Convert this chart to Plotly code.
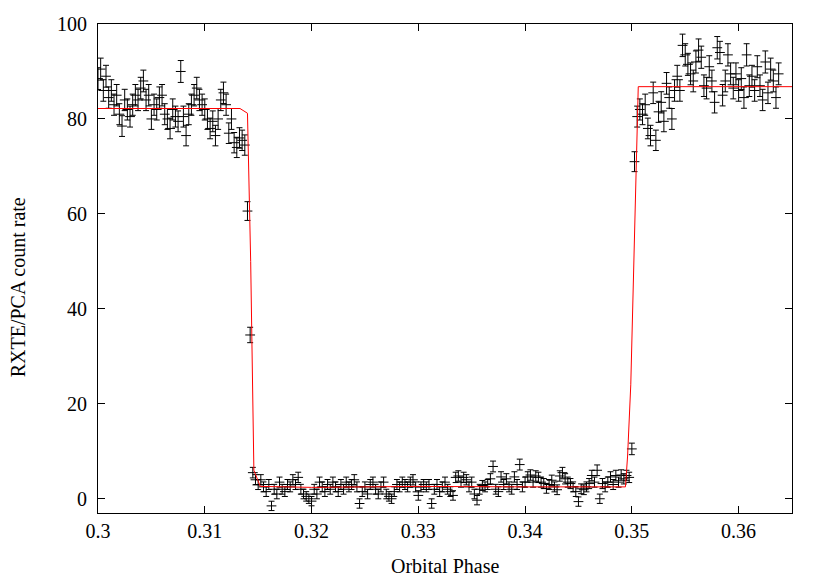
import numpy as np
import plotly.graph_objects as go

# light curve bins (orbital phase), bin width read from the point spacing
phase_start = 0.3
bin_width = 0.00025

rate_pre = [
    88.5, 90.5, 86.0, 89.0, 84.5, 86.0, 83.0, 85.0, 81.0, 78.5,
    84.0, 82.0, 80.5, 83.0, 85.0, 84.0, 86.5, 88.0, 84.0, 85.0,
    80.0, 83.0, 82.0, 84.5, 85.0, 81.0, 80.0, 78.0, 82.0, 80.5,
    79.5, 90.0, 80.5, 76.5, 81.0, 83.0, 85.0, 86.5, 84.0, 83.0,
    82.0, 80.0, 78.0, 79.5, 76.5, 80.0, 84.0, 85.5, 83.0, 77.0,
    80.0, 75.0, 74.0, 76.0, 75.5, 74.5,
]
rate_ingress = [60.6, 34.5]
rate_eclipse = [
    5.5, 4.0, 3.0, 4.0, 2.5, 1.5, 3.0, -1.5, 2.0, 1.0,
    3.5, 2.0, 1.5, 3.0, 2.5, 4.0, 3.0, 4.5, 2.0, 1.0,
    0.5, 0.0, -0.5, 2.0, 1.0, 3.5, 2.5, 1.5, 3.0, 2.0,
    3.5, 2.5, 1.5, 3.0, 2.0, 3.5, 2.5, 3.0, 4.0, 2.5,
    -1.0, 1.5, 2.5, 1.0, 3.0, 3.5, 2.0, 1.0, 2.5, 3.5,
    1.0, 0.5, 0.0, 1.5, 3.0, 2.5, 3.5, 3.0, 2.5, 3.5,
    4.0, 2.5, 0.7, 2.5, 3.0, 2.5, 3.0, -1.0, 2.0, 3.0,
    1.5, 2.5, 3.5, 2.0, 1.5, 0.7, 4.5, 4.8, 3.5, 4.5,
    4.0, 2.5, 3.5, 1.0, -0.3, 2.0, 2.8, 2.5, 3.0, 4.2,
    6.8, 2.0, 1.5, 4.6, 3.0, 4.2, 2.5, 2.0, 4.6, 3.0,
    7.2, 2.5, 3.5, 4.6, 5.0, 3.5, 4.8, 4.5, 3.5, 3.2,
    2.2, 3.0, 3.9, 2.5, 1.9, 4.8, 5.5, 4.2, 3.5, 3.2,
    2.5, 1.5, -0.6, 2.1, 1.9, 2.5, 3.2, 4.9, 3.5, 6.0,
    0.0, 3.2, 2.5, 3.5, 4.6, 3.0, 4.9, 3.5, 5.0, 4.2,
    4.9, 4.5,
]
rate_egress = [10.5, 71.0]
rate_post = [
    80.5, 82.0, 81.0, 83.0, 78.0, 76.5, 85.5, 75.5, 81.5, 83.5,
    79.5, 87.5, 84.5, 80.0, 86.0, 89.0, 86.0, 95.5, 93.5, 91.5,
    89.5, 88.0, 92.0, 94.5, 93.0, 87.0, 86.5, 91.0, 88.0, 83.5,
    95.0, 94.0, 85.0, 88.0, 93.5, 89.5, 86.5, 89.5, 86.0, 88.5,
    84.5, 93.5, 87.0, 89.0, 86.0, 91.0, 87.0, 84.0, 92.0, 85.5,
    90.5, 88.0, 84.5, 89.5,
]

# eclipse model curve (red line)
model_phase = [
    0.3000, 0.3133, 0.3140, 0.3143, 0.3146, 0.3152, 0.3200, 0.3300,
    0.3400, 0.3494, 0.3496, 0.3499, 0.3506, 0.3650,
]
model_rate = [
    82.2, 82.2, 81.2, 50.0, 6.0, 2.6, 2.4, 2.6,
    2.5, 2.5, 9.0, 24.0, 86.8, 86.8,
]

rate = np.array(rate_pre + rate_ingress + rate_eclipse + rate_egress + rate_post)
phase = phase_start + bin_width * np.arange(len(rate))
# counting errors scale with the source + background rate
rate_err = 0.22 * np.sqrt(np.clip(rate, 0, None) + 20)

fig = go.Figure()
fig.add_trace(
    go.Scatter(
        x=phase,
        y=rate,
        mode="markers",
        marker=dict(symbol="line-ew", size=7, line=dict(width=1, color="black")),
        error_y=dict(type="data", array=rate_err, color="black", thickness=1, width=3),
        showlegend=False,
    )
)
fig.add_trace(
    go.Scatter(
        x=model_phase,
        y=model_rate,
        mode="lines",
        line=dict(color="#ff0000", width=1),
        showlegend=False,
    )
)

axis_style = dict(
    ticks="inside",
    ticklen=7,
    tickcolor="black",
    showline=True,
    linecolor="black",
    linewidth=1,
    mirror="ticks",
    showgrid=False,
    zeroline=False,
)

# the page body has an 8px margin, so the figure is a bit smaller than the window
fig.update_layout(
    width=822,
    height=572,
    margin=dict(l=90, r=38, t=16, b=67),
    plot_bgcolor="white",
    paper_bgcolor="white",
    font=dict(family="Liberation Serif", size=20, color="black"),
    xaxis=dict(
        range=[0.3, 0.365],
        tickvals=[0.3, 0.31, 0.32, 0.33, 0.34, 0.35, 0.36],
        ticktext=["0.3", "0.31", "0.32", "0.33", "0.34", "0.35", "0.36"],
        automargin="bottom",
        **axis_style,
    ),
    yaxis=dict(
        range=[-3, 100],
        tickvals=[0, 20, 40, 60, 80, 100],
        ticklabelstandoff=6,
        automargin="left",
        **axis_style,
    ),
    annotations=[
        dict(
            text="Orbital Phase",
            xref="paper", yref="paper",
            x=0.5, y=-0.108,
            xanchor="center", yanchor="middle",
            showarrow=False,
        ),
        dict(
            text="RXTE/PCA count rate",
            xref="paper", yref="paper",
            x=-0.115, y=0.462,
            xanchor="center", yanchor="middle",
            textangle=-90,
            showarrow=False,
        ),
    ],
)

fig.write_html("out.html")
